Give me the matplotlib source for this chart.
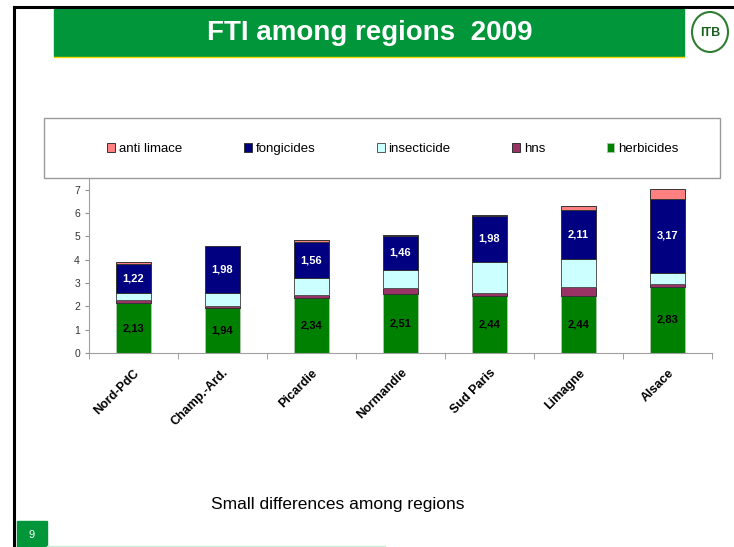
import matplotlib.pyplot as plt
import matplotlib.patches as patches
import numpy as np

plt.rcParams['font.family'] = ['Liberation Sans', 'DejaVu Sans']

regions = ["Nord-PdC", "Champ.-Ard.", "Picardie", "Normandie", "Sud Paris", "Limagne", "Alsace"]
herbicides = [2.13, 1.94, 2.34, 2.51, 2.44, 2.44, 2.83]
hns = [0.13, 0.09, 0.16, 0.29, 0.13, 0.39, 0.14]
insecticide = [0.31, 0.56, 0.69, 0.77, 1.33, 1.20, 0.47]
fongicides = [1.22, 1.98, 1.56, 1.46, 1.98, 2.11, 3.17]
anti_limace = [0.12, 0.02, 0.10, 0.02, 0.03, 0.14, 0.43]

series = [
    ("herbicides", herbicides, "#008000", "#a8c8a8"),
    ("hns", hns, "#993366", "#333333"),
    ("insecticide", insecticide, "#CCFFFF", "#555555"),
    ("fongicides", fongicides, "#000080", "#333333"),
    ("anti limace", anti_limace, "#FF8080", "#333333"),
]

W, H = 734, 547
fig = plt.figure(figsize=(W / 100, H / 100), dpi=100)

def px(x, y, w, h):
    # pixel box (from top-left) -> figure fraction
    return [x / W, 1 - (y + h) / H, w / W, h / H]

# slide decoration
fig.add_artist(plt.Line2D([13.5 / W, 1], [1 - 6.5 / H] * 2, color="black", lw=2.2))
fig.add_artist(plt.Line2D([13.5 / W] * 2, [0, 1 - 6.5 / H], color="black", lw=2.2))
b = px(54, 9, 630, 47)
fig.add_artist(patches.Rectangle((b[0], b[1]), b[2], b[3], transform=fig.transFigure,
                                 color="#009639", zorder=1))
fig.add_artist(plt.Line2D([54 / W, 684 / W], [1 - 57 / H] * 2, color="#FFD700", lw=1))
fig.text(370 / W, 1 - 33 / H, "FTI among regions  2009", color="white", fontsize=20,
         fontweight="bold", ha="center", va="center")
# logo
fig.add_artist(patches.Ellipse((710 / W, 1 - 32 / H), 36 / W, 40 / H, transform=fig.transFigure,
                               facecolor="white", edgecolor="#2E7D32", lw=1.5))
fig.text(710 / W, 1 - 33 / H, "ITB", color="#1B5E20", fontsize=9, fontweight="bold",
         ha="center", va="center")

# legend frame
lb = px(44, 118, 676, 60)
fig.add_artist(patches.Rectangle((lb[0], lb[1]), lb[2], lb[3], transform=fig.transFigure,
                                 facecolor="white", edgecolor="#9a9a9a", lw=1))

ax = fig.add_axes(px(89, 179, 623, 174))
x = np.arange(len(regions))
bottom = np.zeros(len(regions))
handles = {}
for name, vals, col, ec in series:
    vals = np.array(vals)
    bars = ax.bar(x, vals, 0.4, bottom=bottom, color=col, edgecolor=ec, linewidth=0.7)
    handles[name] = bars
    if name == "herbicides":
        for xi, v, b0 in zip(x, vals, bottom):
            ax.text(xi, b0 + v / 2, f"{v:.2f}".replace(".", ","), ha="center", va="center",
                    fontsize=8, color="black", fontweight="semibold")
    if name == "fongicides":
        for xi, v, b0 in zip(x, vals, bottom):
            ax.text(xi, b0 + v / 2, f"{v:.2f}".replace(".", ","), ha="center", va="center",
                    fontsize=8, color="white", fontweight="bold")
    bottom += vals

ax.set_xlim(-0.5, 6.5)
ax.set_ylim(0, 7.45)
ax.set_yticks(range(8))
ax.set_xticks(x)
ax.set_xticklabels(regions, rotation=45, ha="right", va="top", rotation_mode="anchor",
                   fontsize=9, fontweight="bold")
ax.set_xticks(np.arange(-0.5, 7, 1), minor=True)
ax.tick_params(axis="x", which="major", length=0, pad=10)
ax.tick_params(axis="x", which="minor", length=4, color="#909090")
ax.tick_params(axis="y", length=3, color="#909090", labelsize=7.5, labelcolor="#333333")
for s in ["top", "right"]:
    ax.spines[s].set_visible(False)
for s in ["left", "bottom"]:
    ax.spines[s].set_color("#a0a0a0")

order = ["anti limace", "fongicides", "insecticide", "hns", "herbicides"]
fig.legend([handles[n] for n in order], order, loc="center", ncol=5, frameon=False,
           bbox_to_anchor=(393 / W, 1 - 149 / H), fontsize=9.5, handlelength=0.6,
           handleheight=0.6, handletextpad=0.3, columnspacing=4.65)

fig.text(338 / W, 1 - 504 / H, "Small differences among regions", fontsize=12.5,
         ha="center", va="center")
pb = px(17, 521, 30, 26)
fig.add_artist(patches.Rectangle((pb[0], pb[1]), pb[2], pb[3], transform=fig.transFigure,
                                 color="#009639"))
fig.text(32 / W, 1 - 535 / H, "9", color="white", fontsize=8, ha="center", va="center")
fig.add_artist(plt.Line2D([47 / W, 385 / W], [1 - 545.5 / H] * 2, color="#C8EFD4", lw=1))

fig.savefig("out.png", dpi=100)
